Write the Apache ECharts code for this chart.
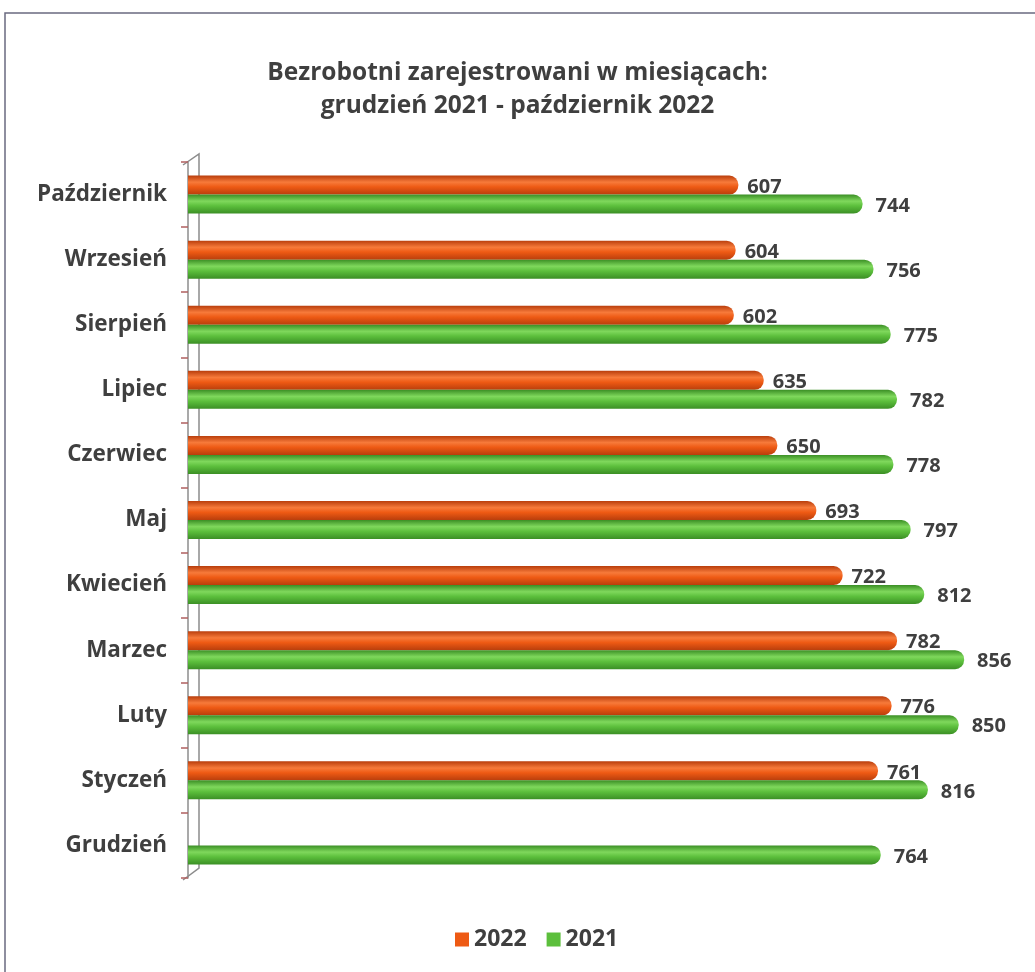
<!DOCTYPE html>
<html>
<head>
<meta charset="utf-8">
<title>Bezrobotni zarejestrowani</title>
<script src="https://cdn.jsdelivr.net/npm/echarts@6/dist/echarts.min.js"></script>
<style>
  html, body { margin: 0; padding: 0; background: #fff; }
  #chart { width: 1035px; height: 972px; }
</style>
</head>
<body>
<div id="chart"></div>
<script>
// miesiące od dołu do góry osi
const months = ['Grudzień', 'Styczeń', 'Luty', 'Marzec', 'Kwiecień', 'Maj',
  'Czerwiec', 'Lipiec', 'Sierpień', 'Wrzesień', 'Październik']
const values2022 = [null, 761, 776, 782, 722, 693, 650, 635, 602, 604, 607]
const values2021 = [764, 816, 850, 856, 812, 797, 778, 782, 775, 756, 744]

const textColor = '#3f3f3f'
const font = '"Open Sans", "Noto Sans", sans-serif'

// walec: ciemniejsze krawędzie, jaśniejszy środek
const tube = (edge, mid, light) => new echarts.graphic.LinearGradient(0, 0, 0, 1, [
  { offset: 0, color: edge },
  { offset: 0.35, color: light },
  { offset: 0.6, color: mid },
  { offset: 1, color: edge }
])

const chart = echarts.init(document.getElementById('chart'))

chart.setOption({
  backgroundColor: '#fff',
  animation: false,
  title: {
    text: 'Bezrobotni zarejestrowani w miesiącach:\ngrudzień 2021 - październik 2022',
    left: 'center',
    top: 52,
    textStyle: {
      fontFamily: font,
      fontSize: 24.5,
      fontWeight: 'bold',
      color: textColor,
      lineHeight: 33
    }
  },
  legend: {
    bottom: 16,
    left: 450,
    itemWidth: 14,
    itemHeight: 14,
    itemGap: 20,
    icon: 'rect',
    textStyle: { fontFamily: font, fontSize: 23, fontWeight: 'bold', color: textColor },
    data: [
      { name: '2022', itemStyle: { color: '#ee5a14' } },
      { name: '2021', itemStyle: { color: '#5cbf3c' } }
    ]
  },
  grid: { left: 188, right: 31, top: 162, bottom: 94 },
  xAxis: {
    type: 'value',
    min: 0,
    max: 900,
    show: false
  },
  yAxis: {
    type: 'category',
    data: months,
    offset: 5,
    axisLine: { show: true, lineStyle: { color: '#8c8c8c', width: 1.5 } },
    axisTick: { show: true, length: 7, lineStyle: { color: '#b06060', width: 1.5 } },
    axisLabel: {
      margin: 16,
      fontFamily: font,
      fontSize: 22.5,
      fontWeight: 'bold',
      color: textColor
    }
  },
  graphic: [
    // ramka skanu
    {
      type: 'rect', z: -10, silent: true,
      shape: { x: 5, y: 13, width: 1060, height: 1000 },
      style: { fill: 'none', stroke: '#6a6a80', lineWidth: 1.5 }
    },
    // boczna ściana 3D
    {
      type: 'polyline', z: -5, silent: true,
      shape: { points: [[183, 165], [199, 154], [199, 868], [183, 880]] },
      style: { fill: 'none', stroke: '#8c8c8c', lineWidth: 1.5 }
    }
  ],
  series: [
    {
      name: '2022',
      type: 'bar',
      data: values2022,
      barWidth: 19,
      barGap: '0%',
      itemStyle: {
        color: tube('#b93e0c', '#ee5a14', '#f77a3a'),
        borderRadius: [0, 9, 9, 0]
      },
      label: {
        show: true,
        position: 'right',
        distance: 9,
        offset: [0, 2],
        fontFamily: font,
        fontSize: 20,
        fontWeight: 'bold',
        color: textColor
      }
    },
    {
      name: '2021',
      type: 'bar',
      data: values2021,
      barWidth: 19,
      itemStyle: {
        color: tube('#3b8f25', '#5cbf3c', '#7fd85c'),
        borderRadius: [0, 9, 9, 0]
      },
      label: {
        show: true,
        position: 'right',
        distance: 13,
        offset: [0, 2],
        fontFamily: font,
        fontSize: 20,
        fontWeight: 'bold',
        color: textColor
      }
    }
  ]
})
</script>
</body>
</html>
